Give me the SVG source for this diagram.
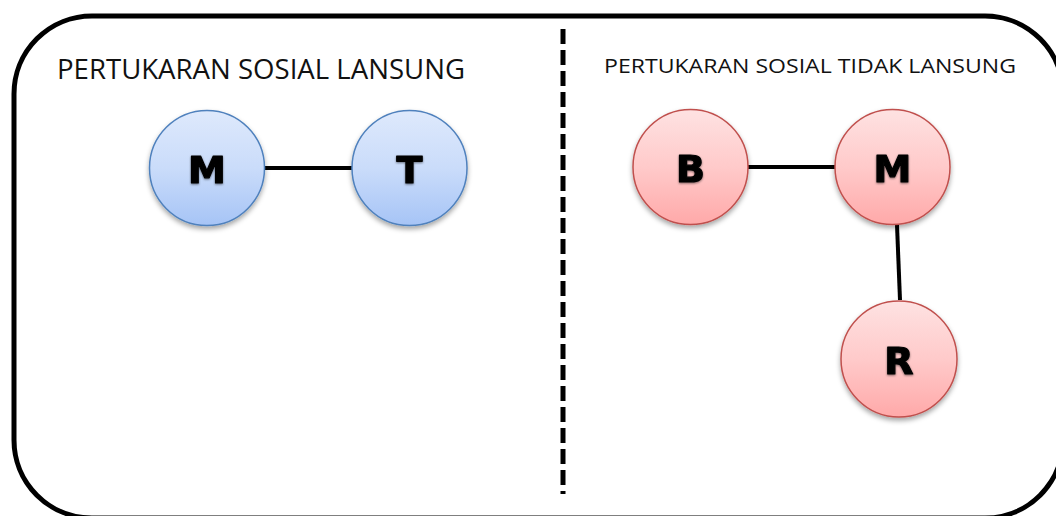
<svg xmlns="http://www.w3.org/2000/svg" width="1056" height="516" viewBox="0 0 1056 516">
  <style>
    .frame { fill: none; stroke: #000; stroke-width: 5; }
    .divider { stroke: #000; stroke-width: 5; stroke-dasharray: 15 6; }
    .edge { stroke: #000; stroke-width: 4; stroke-linecap: butt; }
    .title { font-family: "Open Sans", "Noto Sans", sans-serif; fill: #111; }
    .blue { fill: url(#gBlue); stroke: #4f81bd; stroke-width: 1.5; filter: url(#shadow); }
    .red { fill: url(#gRed); stroke: #c0504d; stroke-width: 1.5; filter: url(#shadow); }
    .lbl { font-family: "DejaVu Sans", "Liberation Sans", sans-serif; font-weight: bold; font-size: 38px; fill: #000; stroke: #000; stroke-width: 1.2; stroke-linejoin: round; text-anchor: middle; filter: url(#soft); }
  </style>
  <defs>
    <linearGradient id="gBlue" x1="0" y1="0" x2="0" y2="1">
      <stop offset="0" stop-color="#dee9fc"/>
      <stop offset="0.5" stop-color="#cadcfa"/>
      <stop offset="1" stop-color="#a6c4f6"/>
    </linearGradient>
    <linearGradient id="gRed" x1="0" y1="0" x2="0" y2="1">
      <stop offset="0" stop-color="#fee2e2"/>
      <stop offset="0.5" stop-color="#ffcaca"/>
      <stop offset="1" stop-color="#ffa9a9"/>
    </linearGradient>
    <filter id="shadow" x="-20%" y="-20%" width="140%" height="150%">
      <feDropShadow dx="0" dy="3" stdDeviation="2.5" flood-color="#000" flood-opacity="0.35"/>
    </filter>
    <filter id="soft" x="-20%" y="-20%" width="140%" height="150%">
      <feDropShadow dx="0" dy="1" stdDeviation="1" flood-color="#000" flood-opacity="0.5"/>
    </filter>
  </defs>

  <!-- outer rounded frame -->
  <rect class="frame" x="14" y="16" width="1049" height="502" rx="78" ry="78"/>

  <!-- section titles -->
  <text class="title" x="57" y="79" font-size="27" textLength="408" lengthAdjust="spacingAndGlyphs">PERTUKARAN SOSIAL LANSUNG</text>
  <text class="title" x="604" y="73" font-size="20.5" textLength="412" lengthAdjust="spacingAndGlyphs">PERTUKARAN SOSIAL TIDAK LANSUNG</text>

  <!-- connectors -->
  <g id="connectors">
    <line class="divider" x1="563" y1="29" x2="563" y2="494"/>
    <line class="edge" x1="264" y1="168" x2="352" y2="168"/>
    <line class="edge" x1="748" y1="167" x2="835" y2="167"/>
    <line class="edge" x1="897" y1="225" x2="900" y2="300"/>
  </g>

  <!-- direct exchange -->
  <g id="node-M1">
    <circle class="blue" cx="207" cy="168" r="57.5"/>
    <text class="lbl" x="207" y="183">M</text>
  </g>
  <g id="node-T">
    <circle class="blue" cx="409.5" cy="168" r="57.5"/>
    <text class="lbl" x="409.5" y="183">T</text>
  </g>

  <!-- indirect exchange -->
  <g id="node-B">
    <circle class="red" cx="690.5" cy="167" r="57.5"/>
    <text class="lbl" x="690.5" y="182">B</text>
  </g>
  <g id="node-M2">
    <circle class="red" cx="892.5" cy="167" r="57.5"/>
    <text class="lbl" x="892.5" y="182">M</text>
  </g>
  <g id="node-R">
    <circle class="red" cx="899" cy="359" r="58"/>
    <text class="lbl" x="899" y="374">R</text>
  </g>
</svg>
